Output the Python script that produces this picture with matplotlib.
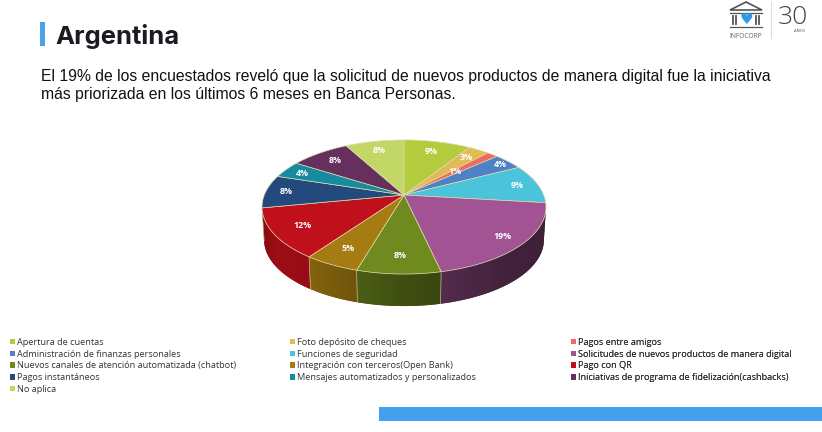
import numpy as np
import matplotlib
matplotlib.use("Agg")
import matplotlib.pyplot as plt
from matplotlib.patches import Patch, Rectangle, Polygon

# ---- data ----
categories = ["Apertura de cuentas", "Foto depósito de cheques", "Pagos entre amigos",
              "Administración de finanzas personales", "Funciones de seguridad",
              "Solicitudes de nuevos productos de manera digital",
              "Nuevos canales de atención automatizada (chatbot)",
              "Integración con terceros(Open Bank)", "Pago con QR", "Pagos instantáneos",
              "Mensajes automatizados y personalizados",
              "Iniciativas de programa de fidelización(cashbacks)", "No aplica"]
values = [9.0, 2.8, 1.5, 4.0, 9.4, 19.5, 8.0, 5.3, 12.0, 7.9, 4.1, 8.0, 7.9]
value_labels = ["9%", "3%", "1%", "4%", "9%", "19%", "8%", "5%", "12%", "8%", "4%", "8%", "8%"]
colors = ["#b2cc3e", "#e3bb55", "#ee6a63", "#4f81c7", "#4bc3da", "#a25394", "#6f8a1f",
          "#a67c12", "#c0101b", "#24497c", "#168a9e", "#65305e", "#c3d766"]
label_radius = [.80, .82, .55, .92, .85, .85, .80, .80, .80, .85, .85, .80, .80]

title = "Argentina"
subtitle = ["El 19% de los encuestados reveló que la solicitud de nuevos productos de manera digital fue la iniciativa",
            "más priorizada en los últimos 6 meses en Banca Personas."]

# ---- pie projection (perspective disc) ----
CX, CY, A, B, K, DEPTH = 404.0, 195.0, 139.7, 64.9, 0.179, 33.0


def rim(theta, r=1.0, scale=1.0, drop=0.0):
    u, v = r * np.sin(theta), r * np.cos(theta)
    w = 1 + K * v
    x = CX + scale * A * u / w
    y = CY - B * v / w
    if scale != 1.0:
        y = (CY + 12) + (y - (CY + 12)) * scale
    return x, y + drop


fig = plt.figure(figsize=(8.22, 4.32), dpi=100, facecolor="white")
ax = fig.add_axes([0, 0, 1, 1])
ax.axis("off")

frac = np.asarray(values) / np.sum(values)
edges = np.concatenate([[0], np.cumsum(frac)]) * 2 * np.pi

# side wall: each slice is a horizontal gradient clipped to its outline
shade_t = np.radians([90, 140, 180, 215, 235, 260, 270])
shade_f = [.38, .40, .57, .80, .82, .62, .60]
wall_lo, wall_hi = np.radians(100.3), np.radians(259.7)
for i, c in enumerate(colors):
    lo, hi = max(edges[i], wall_lo), min(edges[i + 1], wall_hi)
    if hi <= lo:
        continue
    t = np.linspace(lo, hi, 60)
    xt, yt = rim(t)
    xb, yb = rim(t, scale=.985, drop=DEPTH)
    base = np.array(matplotlib.colors.to_rgb(c))
    order = np.argsort(xt)
    grid = np.linspace(xt.min(), xt.max(), 120)
    f = np.interp(np.interp(grid, xt[order], t[order]), shade_t, shade_f)
    img = (base[None, :] * f[:, None])[None, :, :]
    outline = Polygon(np.c_[np.r_[xt, xb[::-1]], np.r_[yt, yb[::-1]]], closed=True,
                      facecolor=base * f.mean(), edgecolor="none", zorder=2, transform=ax.transData)
    ax.add_patch(outline)
    im = ax.imshow(img, extent=(xt.min(), xt.max(), yb.max() + 1, yt.min() - 1), aspect="auto",
                   zorder=2.1, interpolation="bilinear")
    im.set_clip_path(outline)
    for k in (0, -1):
        if (k == 0 and edges[i] >= wall_lo) or (k == -1 and edges[i + 1] <= wall_hi):
            ax.plot([xt[k], xb[k]], [yt[k], yb[k]], color="#c9c48a", lw=.4, alpha=.7, zorder=3)

# top face
for i, c in enumerate(colors):
    t = np.linspace(edges[i], edges[i + 1], 50)
    x, y = rim(t)
    ax.fill(np.r_[CX, x], np.r_[CY, y], facecolor=c, edgecolor="#dcdca8", linewidth=.5, zorder=4)
    mid = (edges[i] + edges[i + 1]) / 2
    lx, ly = rim(mid, r=label_radius[i])
    ax.text(lx, ly, value_labels[i], color="white", fontsize=6.4, fontweight="bold",
            family="Open Sans", ha="center", va="center", zorder=5)

ax.set_xlim(0, 822)
ax.set_ylim(432, 0)

# legend: three columns, filled row by row
col_anchor = [10, 290, 571]
for c in range(3):
    idx = range(c, len(categories), 3)
    hs = [Patch(facecolor=colors[i], edgecolor="none", label=categories[i]) for i in idx]
    leg = ax.legend(handles=hs, loc="upper left", bbox_to_anchor=(col_anchor[c], 337.8),
                    bbox_transform=ax.transData, frameon=False, prop={"family": "Open Sans", "size": 6.55},
                    borderpad=0, borderaxespad=0, labelspacing=.30,
                    handlelength=.55, handleheight=.55, handletextpad=.22)
    for txt in leg.get_texts():
        txt.set_color("#333333")
    ax.add_artist(leg)

# page furniture
ax.add_patch(Rectangle((40, 22), 5, 24, color="#4aa3e8", lw=0))
ax.text(55, 36.5, title, fontsize=18.4, fontweight="bold", family="Inter", color="#1a1a22", va="center")
for yy, s in zip((77, 95), subtitle):
    ax.text(41, yy, s, fontsize=11.3, family="Liberation Sans", color="#111111", va="center")
ax.add_patch(Rectangle((379, 407), 443, 14, color="#42a0ee", lw=0))

# logo
ax.add_patch(Polygon([(730, 10), (746, 2), (762, 10)], closed=True, fill=False, ec="#555555", lw=1.2))
ax.plot([730, 762], [12.5, 12.5], color="#555555", lw=.9)
for xx in (733, 736, 756, 759):
    ax.plot([xx, xx], [16, 24], color="#555555", lw=1.3)
ax.plot([730, 762], [26.5, 26.5], color="#555555", lw=.9)
ax.text(746, 20, "♥", color="#2f9be8", fontsize=11, ha="center", va="center", family="DejaVu Sans")
ax.text(746, 36, "INFOCORP", color="#666666", fontsize=4.8, ha="center", va="center", family="Open Sans")
ax.plot([771, 771], [2, 38], color="#dddddd", lw=.8)
ax.text(793, 17, "30", color="#444444", fontsize=19, fontweight="light", ha="center", va="center", family="Open Sans")
ax.text(800, 30.5, "AÑOS", color="#555555", fontsize=3, ha="center", va="center", family="Open Sans")

fig.savefig("out.png", dpi=100, facecolor="white")
